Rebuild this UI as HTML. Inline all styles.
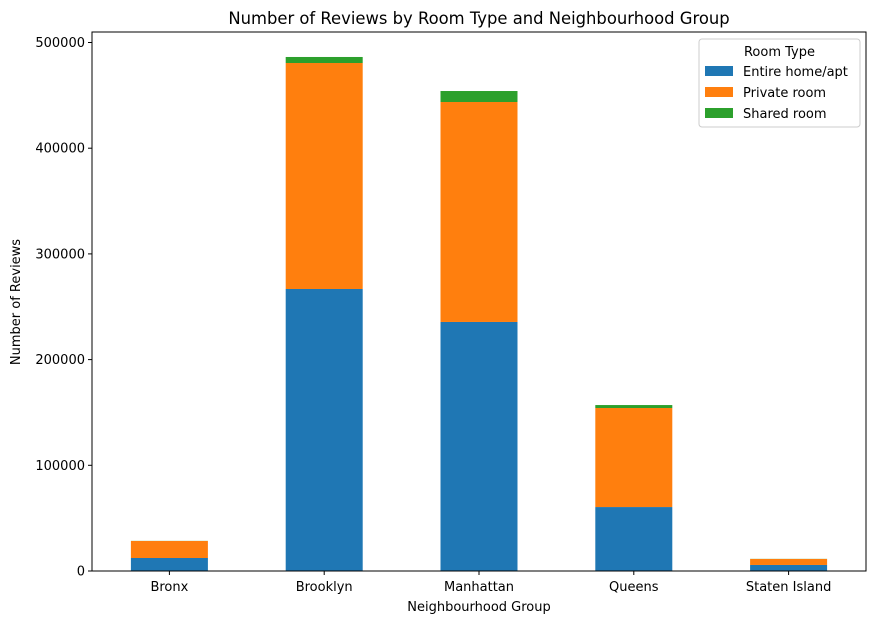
<!DOCTYPE html>
<html><head><meta charset="utf-8"><style>
body{margin:0;background:#fff;font-family:"Liberation Sans","DejaVu Sans",sans-serif;}
</style></head><body>
<svg id="chart" width="876" height="624" xmlns="http://www.w3.org/2000/svg" font-family="DejaVu Sans, Liberation Sans, sans-serif">
<text x="479" y="24" font-size="16.4" text-anchor="middle">Number of Reviews by Room Type and Neighbourhood Group</text>
<g id="plot"></g>
<text x="479" y="611" font-size="13" text-anchor="middle">Neighbourhood Group</text>
<text x="20" y="302" font-size="13" text-anchor="middle" transform="rotate(-90 20 302)">Number of Reviews</text>
</svg>
<script>
const categories=["Bronx","Brooklyn","Manhattan","Queens","Staten Island"];
const entireHome=[12300,266800,235600,60500,5700];
const privateRoom=[16100,213800,208100,93700,5700];
const sharedRoom=[100,5700,10400,2800,100];
const yTicks=[0,100000,200000,300000,400000,500000];
const seriesNames=["Entire home/apt","Private room","Shared room"];
const colors=["#1f77b4","#ff7f0e","#2ca02c"];
const NS="http://www.w3.org/2000/svg";
const L=92,R=866,T=32,B=571;
const y=v=>B-v*(B-42.5)/500000;
const step=(R-L)/categories.length;
const x=i=>L+step*(i+0.5);
const bw=77;
const g=document.getElementById('plot');
function mk(t,a){const e=document.createElementNS(NS,t);for(const k in a)e.setAttribute(k,a[k]);g.appendChild(e);return e;}
const series=[entireHome,privateRoom,sharedRoom];
categories.forEach((c,i)=>{let base=0;series.forEach((s,j)=>{
 const r=mk('rect',{x:x(i)-bw/2,y:y(base+s[i]),width:bw,height:y(base)-y(base+s[i]),fill:colors[j]});
 
 
 base+=s[i];});
 mk('line',{x1:x(i),x2:x(i),y1:B,y2:B+4,stroke:'#000'});
 const t=mk('text',{x:x(i),y:B+20,'font-size':13,'text-anchor':'middle'});t.textContent=c;
 
 
});
yTicks.forEach(v=>{mk('line',{x1:L-4,x2:L,y1:y(v),y2:y(v),stroke:'#000'});
 const t=mk('text',{x:L-7,y:y(v)+4.5,'font-size':13,'text-anchor':'end'});t.textContent=v;
 
 });
const fr=mk('rect',{x:L,y:T,width:R-L,height:B-T,fill:'none',stroke:'#000','stroke-width':1});


const lb=mk('rect',{x:699,y:39,width:161,height:88,fill:'#fff',stroke:'#ccc',rx:3});


const lt=mk('text',{x:779.5,y:56,'font-size':13,'text-anchor':'middle'});lt.textContent='Room Type';


seriesNames.forEach((n,j)=>{const yy=66+j*21;
 const sw=mk('rect',{x:705,y:yy,width:28,height:10,fill:colors[j]});
 
 
 const t=mk('text',{x:743,y:yy+10,'font-size':13});t.textContent=n;
 
 });
</script>
</body></html>
